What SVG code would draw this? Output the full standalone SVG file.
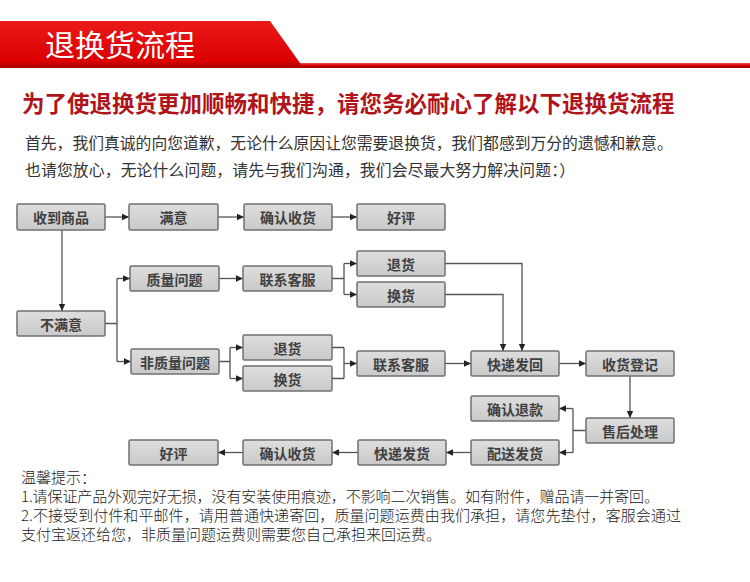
<svg xmlns="http://www.w3.org/2000/svg" width="750" height="582" viewBox="0 0 750 582">
<defs>
<linearGradient id="band" x1="0" y1="0" x2="0" y2="1">
<stop offset="0" stop-color="#ea1a1a"/>
<stop offset="0.85" stop-color="#dc0000"/>
<stop offset="1" stop-color="#a80000"/>
</linearGradient>
<linearGradient id="line" x1="0" y1="0" x2="0" y2="1">
<stop offset="0" stop-color="#f05050"/>
<stop offset="0.5" stop-color="#d00000"/>
<stop offset="1" stop-color="#a00000"/>
</linearGradient>
<linearGradient id="box" x1="0" y1="0" x2="0" y2="1">
<stop offset="0" stop-color="#dedede"/>
<stop offset="1" stop-color="#c9c9c9"/>
</linearGradient>
<marker id="ah" markerUnits="userSpaceOnUse" markerWidth="8" markerHeight="8" refX="7" refY="4" orient="auto">
<path d="M0,0.8 L7,4 L0,7.2 Z" fill="#222"/>
</marker>
</defs>
<style>
.nb{fill:url(#box);stroke:#707070;stroke-width:1.5}
.nt{font-family:"Noto Sans CJK SC","Liberation Sans",sans-serif;font-size:14px;font-weight:bold;fill:#404040;text-anchor:middle;dominant-baseline:central}
.c{fill:none;stroke:#555;stroke-width:1.3}
.ca{fill:none;stroke:#555;stroke-width:1.3;marker-end:url(#ah)}
.p{font-family:"Noto Sans CJK SC","Liberation Sans",sans-serif;font-size:15.8px;fill:#333}
.b{font-family:"Noto Sans CJK SC","Liberation Sans",sans-serif;font-size:15px;fill:#1a1a1a;font-weight:300}
</style>
<rect width="750" height="582" fill="#ffffff"/>
<g id="header">
<polygon points="0,21 270,21 300,63 750,63 750,68 0,68" fill="url(#band)"/>
<rect x="300" y="63" width="450" height="5" fill="url(#line)"/>
<text x="45" y="56" font-size="30" fill="#ffffff" style="font-family:'Noto Sans CJK SC',sans-serif">退换货流程</text>
</g>
<g id="intro">
<text x="22" y="112" font-size="22.5" font-weight="bold" fill="#b0141a" style="font-family:'Noto Sans CJK SC',sans-serif">为了使退换货更加顺畅和快捷，请您务必耐心了解以下退换货流程</text>
<text class="p" x="25" y="149">首先，我们真诚的向您道歉，无论什么原因让您需要退换货，我们都感到万分的遗憾和歉意。</text>
<text class="p" x="25" y="176" textLength="550" lengthAdjust="spacing">也请您放心，无论什么问题，请先与我们沟通，我们会尽最大努力解决问题：）</text>
</g>
<g id="connectors">
<path class="ca" d="M105,217 H129"/>
<path class="ca" d="M218,217 H244"/>
<path class="ca" d="M332,217 H357"/>
<path class="ca" d="M62,230 V311"/>
<path class="c" d="M105,323.5 H117 M117,278.5 V361.5"/>
<path class="ca" d="M117,278.5 H130"/>
<path class="ca" d="M117,361.5 H131"/>
<path class="ca" d="M219,278.5 H243"/>
<path class="c" d="M332,278.5 H344 M344,263.5 V294.5"/>
<path class="ca" d="M344,263.5 H357"/>
<path class="ca" d="M344,294.5 H357"/>
<path class="c" d="M219,361.5 H230 M230,347.5 V378.5"/>
<path class="ca" d="M230,347.5 H243"/>
<path class="ca" d="M230,378.5 H243"/>
<path class="c" d="M332,347.5 H344 M332,378.5 H344 M344,347.5 V378.5"/>
<path class="ca" d="M344,363.5 H357"/>
<path class="ca" d="M445,363.5 H471"/>
<path class="ca" d="M445,263.5 H522 V351"/>
<path class="ca" d="M445,294.5 H503 V351"/>
<path class="ca" d="M559,363.5 H586"/>
<path class="ca" d="M630,376 V418"/>
<path class="c" d="M586,430.5 H573 M573,408.5 V452.5"/>
<path class="ca" d="M573,408.5 H559"/>
<path class="ca" d="M573,452.5 H559"/>
<path class="ca" d="M471,452.5 H446"/>
<path class="ca" d="M358,452.5 H332"/>
<path class="ca" d="M243,452.5 H218"/>
</g>
<g id="n_receive"><rect class="nb" x="17" y="204" width="88" height="26" rx="1.5"/><text class="nt" x="61" y="217">收到商品</text></g>
<g id="n_satisfied"><rect class="nb" x="129" y="204" width="89" height="26" rx="1.5"/><text class="nt" x="173.5" y="217">满意</text></g>
<g id="n_confirm1"><rect class="nb" x="244" y="204" width="88" height="26" rx="1.5"/><text class="nt" x="288" y="217">确认收货</text></g>
<g id="n_good1"><rect class="nb" x="357" y="204" width="88" height="26" rx="1.5"/><text class="nt" x="401" y="217">好评</text></g>
<g id="n_unsat"><rect class="nb" x="17" y="311" width="88" height="25" rx="1.5"/><text class="nt" x="61" y="323.5">不满意</text></g>
<g id="n_quality"><rect class="nb" x="130" y="266" width="89" height="25" rx="1.5"/><text class="nt" x="174.5" y="278.5">质量问题</text></g>
<g id="n_nonquality"><rect class="nb" x="131" y="349" width="88" height="25" rx="1.5"/><text class="nt" x="175" y="361.5">非质量问题</text></g>
<g id="n_cs1"><rect class="nb" x="243" y="266" width="89" height="25" rx="1.5"/><text class="nt" x="287.5" y="278.5">联系客服</text></g>
<g id="n_return1"><rect class="nb" x="357" y="251" width="88" height="25" rx="1.5"/><text class="nt" x="401" y="263.5">退货</text></g>
<g id="n_exchange1"><rect class="nb" x="357" y="282" width="88" height="25" rx="1.5"/><text class="nt" x="401" y="294.5">换货</text></g>
<g id="n_return2"><rect class="nb" x="243" y="335" width="89" height="25" rx="1.5"/><text class="nt" x="287.5" y="347.5">退货</text></g>
<g id="n_exchange2"><rect class="nb" x="243" y="366" width="89" height="25" rx="1.5"/><text class="nt" x="287.5" y="378.5">换货</text></g>
<g id="n_cs2"><rect class="nb" x="357" y="351" width="88" height="25" rx="1.5"/><text class="nt" x="401" y="363.5">联系客服</text></g>
<g id="n_shipback"><rect class="nb" x="471" y="351" width="88" height="25" rx="1.5"/><text class="nt" x="515" y="363.5">快递发回</text></g>
<g id="n_register"><rect class="nb" x="586" y="351" width="88" height="25" rx="1.5"/><text class="nt" x="630" y="363.5">收货登记</text></g>
<g id="n_aftersale"><rect class="nb" x="586" y="418" width="88" height="25" rx="1.5"/><text class="nt" x="630" y="430.5">售后处理</text></g>
<g id="n_refund"><rect class="nb" x="471" y="396" width="88" height="25" rx="1.5"/><text class="nt" x="515" y="408.5">确认退款</text></g>
<g id="n_deliver"><rect class="nb" x="471" y="440" width="88" height="25" rx="1.5"/><text class="nt" x="515" y="452.5">配送发货</text></g>
<g id="n_express"><rect class="nb" x="358" y="440" width="88" height="25" rx="1.5"/><text class="nt" x="402" y="452.5">快递发货</text></g>
<g id="n_confirm2"><rect class="nb" x="243" y="440" width="89" height="25" rx="1.5"/><text class="nt" x="287.5" y="452.5">确认收货</text></g>
<g id="n_good2"><rect class="nb" x="129" y="440" width="89" height="25" rx="1.5"/><text class="nt" x="173.5" y="452.5">好评</text></g>
<g id="notes">
<text class="b" x="21" y="483">温馨提示：</text>
<text class="b" x="21" y="502" textLength="638" lengthAdjust="spacing">1.请保证产品外观完好无损，没有安装使用痕迹，不影响二次销售。如有附件，赠品请一并寄回。</text>
<text class="b" x="21" y="521" textLength="660" lengthAdjust="spacing">2.不接受到付件和平邮件，请用普通快递寄回，质量问题运费由我们承担，请您先垫付，客服会通过</text>
<text class="b" x="21" y="540">支付宝返还给您，非质量问题运费则需要您自己承担来回运费。</text>
</g>
</svg>
